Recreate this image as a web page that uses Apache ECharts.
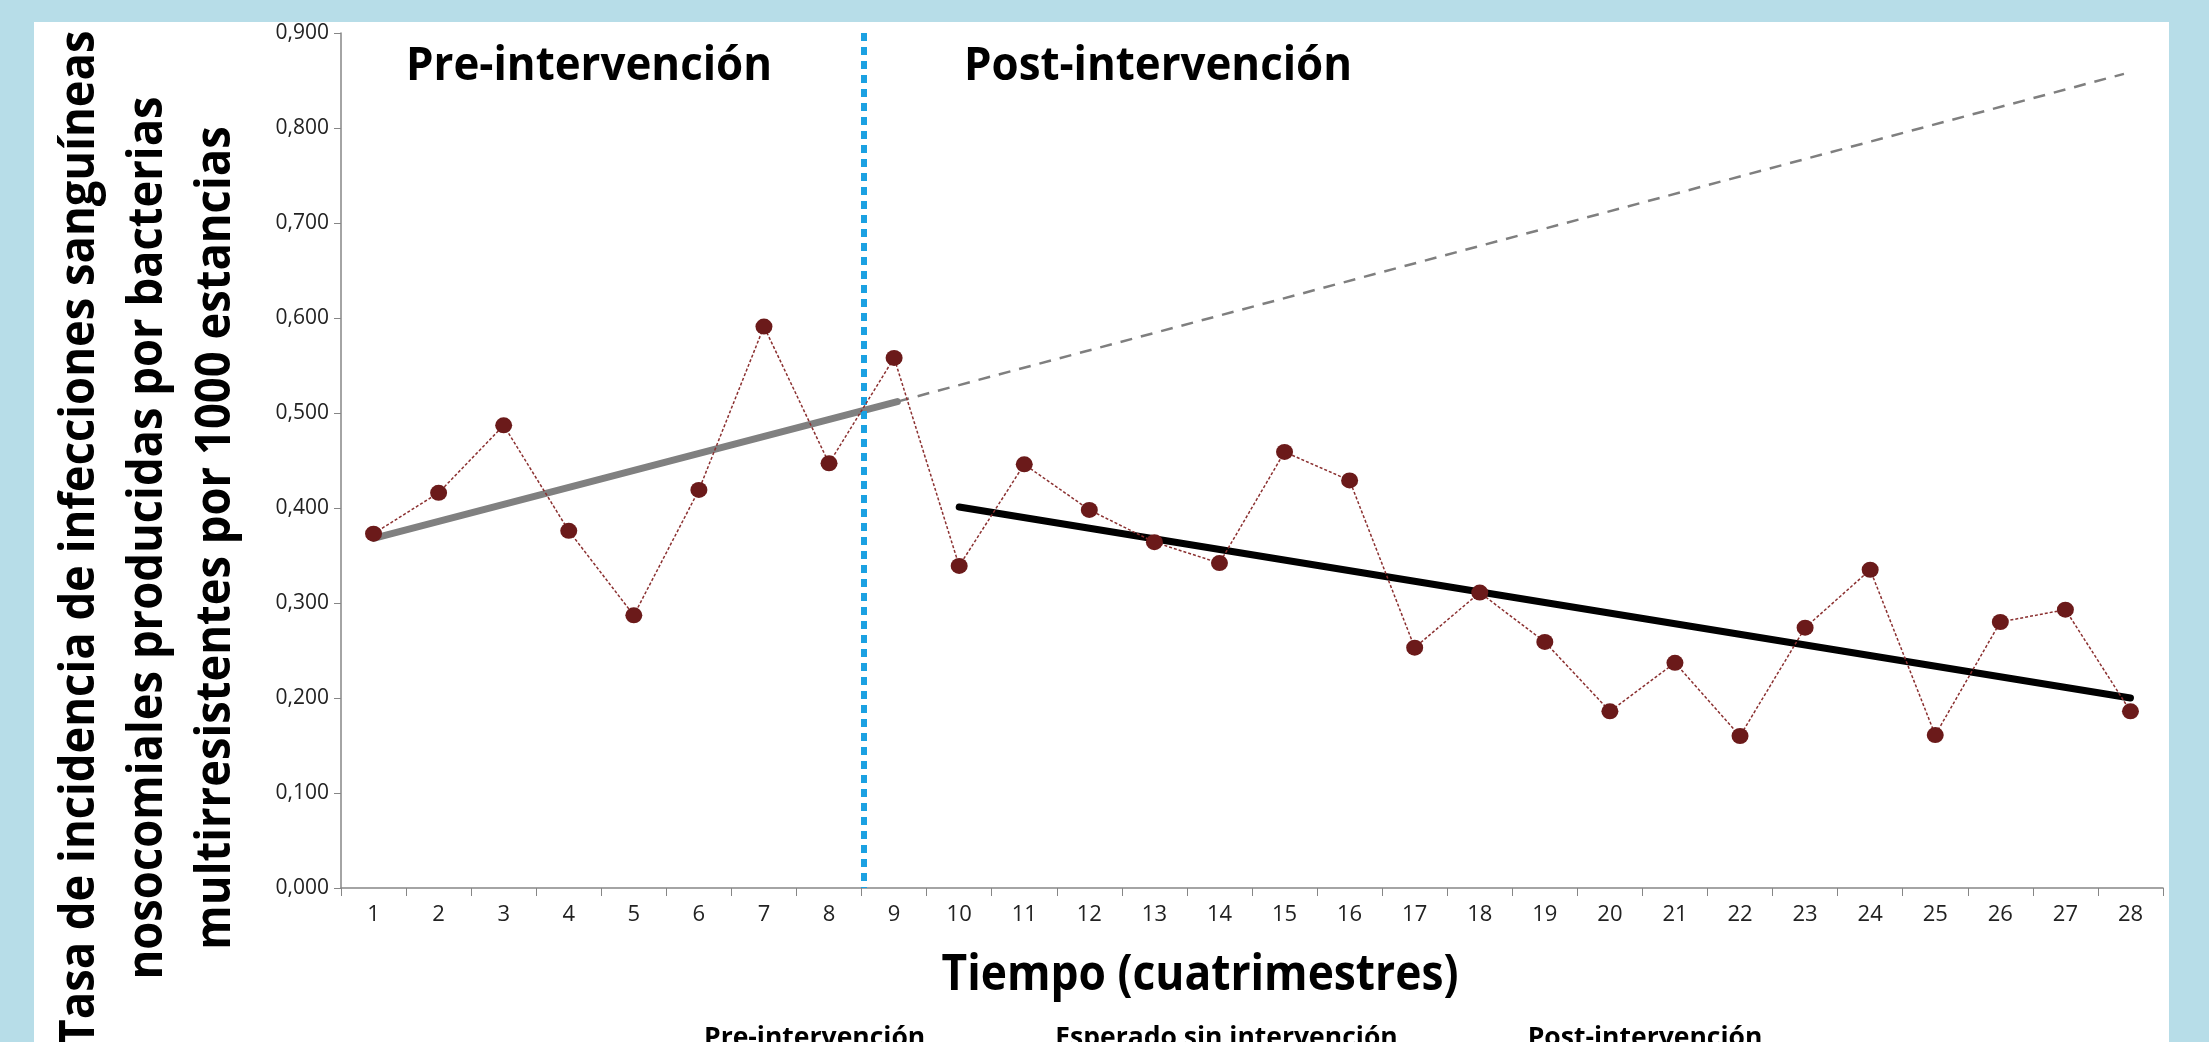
<!DOCTYPE html>
<html>
<head>
<meta charset="utf-8">
<script src="https://cdn.jsdelivr.net/npm/echarts@6/dist/echarts.min.js"></script>
<style>
  html, body { margin: 0; padding: 0; background: #b7dde8; }
  #panel { position: absolute; left: 34px; top: 22px; width: 2135px; height: 1030px; background: #ffffff; }
  #chart { position: absolute; left: 0; top: 0; width: 2209px; height: 1042px; }
</style>
</head>
<body>
<div id="panel"></div>
<div id="chart"></div>
<script>
// ---- data ----
const categories = ['1','2','3','4','5','6','7','8','9','10','11','12','13','14','15','16','17','18','19','20','21','22','23','24','25','26','27','28'];
const rates = [0.373,0.416,0.487,0.376,0.287,0.419,0.591,0.447,0.558,0.339,0.446,0.398,0.364,0.342,0.459,0.429,0.253,0.311,0.259,0.186,0.237,0.160,0.274,0.335,0.161,0.280,0.293,0.186];
const preTrend = [[1, 0.368], [9.05, 0.512]];
const expectedTrend = [[9.05, 0.512], [27.9, 0.857]];
const postTrend = [[10, 0.401], [28, 0.200]];
const interventionAt = 8.53;
const yTicks = { min: 0, max: 0.9, interval: 0.1 };
const yTitleLines = ['Tasa de incidencia de infecciones sanguíneas', 'nosocomiales producidas por bacterias', 'multirresistentes por 1000 estancias'];
const xTitle = 'Tiempo (cuatrimestres)';
const phaseLabels = ['Pre-intervención', 'Post-intervención'];
const legendNames = ['Pre-intervención', 'Esperado sin intervención', 'Post-intervención'];

const FONT = "'Open Sans', sans-serif";

// horizontal condensing factor so that text fills the same length as in the reference
const measureCtx = document.createElement('canvas').getContext('2d');
function fitScale(text, font, target) {
  measureCtx.font = font;
  return target / measureCtx.measureText(text).width;
}
const yTitleFont = "bold 48px " + FONT;
const xTitleFont = "bold 50px " + FONT;
const phaseFont = "bold 46px " + FONT;

const chart = echarts.init(document.getElementById('chart'), null, { renderer: 'canvas' });
const option = {
  backgroundColor: 'transparent',
  animation: false,
  textStyle: { fontFamily: FONT },
  grid: { left: 341, right: 46, top: 33, bottom: 154, containLabel: false },
  legend: {
    data: legendNames,
    left: 693, top: 1020,
    itemWidth: 0, itemHeight: 0, itemGap: 124,
    textStyle: { fontFamily: FONT, fontWeight: 'bold', fontSize: 26.5, color: '#000' }
  },
  xAxis: [
    {
      type: 'category', data: categories, boundaryGap: true,
      axisLine: { lineStyle: { color: '#868686', width: 1.5 } },
      axisTick: { show: true, length: 8, lineStyle: { color: '#868686' } },
      axisLabel: { fontFamily: FONT, fontSize: 22, color: '#222222', margin: 16 },
      splitLine: { show: false }
    },
    {
      type: 'value', min: 0.5, max: 28.5, show: false, position: 'bottom'
    }
  ],
  yAxis: {
    type: 'value', min: yTicks.min, max: yTicks.max, interval: yTicks.interval,
    axisLine: { show: true, lineStyle: { color: '#868686', width: 1.5 } },
    axisTick: { show: true, length: 7, lineStyle: { color: '#868686' } },
    axisLabel: { fontFamily: FONT, fontSize: 21, color: '#222222', margin: 12,
      formatter: v => v.toFixed(3).replace('.', ',') },
    splitLine: { show: false }
  },
  graphic: [
    {
      type: 'text', x: 148, y: 538, rotation: Math.PI / 2,
      scaleX: fitScale(yTitleLines[0], yTitleFont, 1015),
      style: { text: yTitleLines.join('\n'), font: yTitleFont, fill: '#000',
        align: 'center', verticalAlign: 'middle', lineHeight: 68 }
    },
    {
      type: 'text', x: 1200, y: 976,
      scaleX: fitScale(xTitle, xTitleFont, 517),
      style: { text: xTitle, font: xTitleFont, fill: '#000', align: 'center', verticalAlign: 'middle' }
    },
    {
      type: 'text', x: 589, y: 67,
      scaleX: fitScale(phaseLabels[0], phaseFont, 366),
      style: { text: phaseLabels[0], font: phaseFont, fill: '#000', align: 'center', verticalAlign: 'middle' }
    },
    {
      type: 'text', x: 1158, y: 67,
      scaleX: fitScale(phaseLabels[1], phaseFont, 388),
      style: { text: phaseLabels[1], font: phaseFont, fill: '#000', align: 'center', verticalAlign: 'middle' }
    }
  ],
  series: [
    {
      name: legendNames[0], type: 'line', xAxisIndex: 1, data: preTrend,
      symbol: 'none', lineStyle: { color: '#808080', width: 7, cap: 'round' }, z: 3,
      markLine: {
        silent: true, symbol: 'none', label: { show: false },
        lineStyle: { color: '#1ba1e2', width: 6, type: [8, 6] },
        data: [[{ coord: [interventionAt, yTicks.max] }, { coord: [interventionAt, yTicks.min] }]]
      }
    },
    {
      name: legendNames[1], type: 'line', xAxisIndex: 1, data: expectedTrend,
      symbol: 'none', lineStyle: { color: '#7f7f7f', width: 2.5, type: [12, 9] }, z: 3
    },
    {
      name: legendNames[2], type: 'line', xAxisIndex: 1, data: postTrend,
      symbol: 'none', lineStyle: { color: '#000000', width: 7, cap: 'round' }, z: 3
    },
    {
      name: 'Tasa', type: 'line', xAxisIndex: 0, data: rates,
      symbol: 'circle', symbolSize: [17, 16],
      itemStyle: { color: '#6b1a1a' },
      lineStyle: { color: '#8b3030', width: 1.5, type: [3, 2] }, z: 5
    }
  ]
};
chart.setOption(option);
</script>
</body>
</html>
